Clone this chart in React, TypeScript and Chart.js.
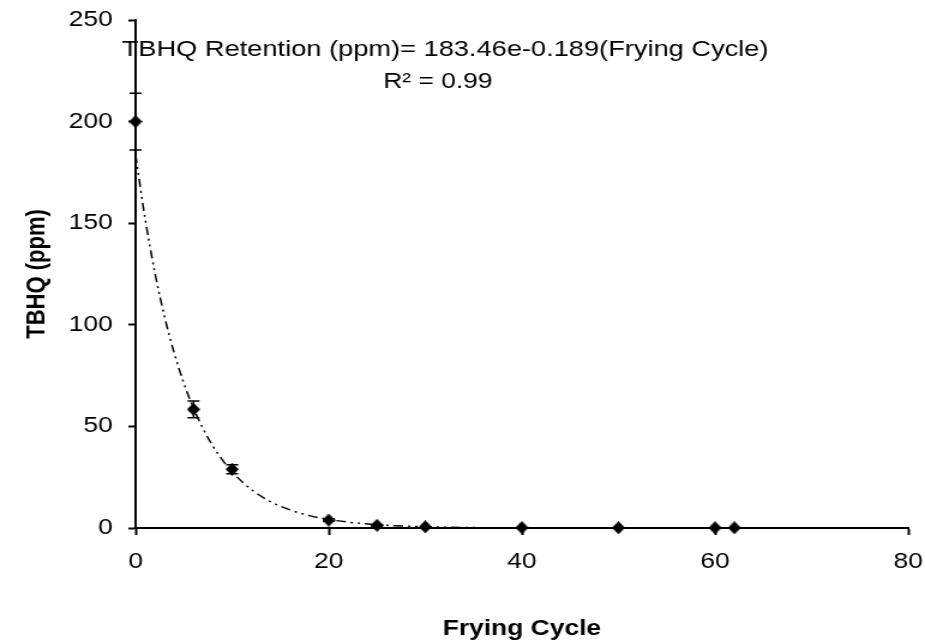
import React, { useEffect, useRef } from "react";
import { Chart, registerables } from "chart.js";
Chart.register(...registerables);

const fryingCycles = [0, 6, 10, 20, 25, 30, 40, 50, 60, 62];
const tbhqValues = [200, 58.4, 28.9, 3.9, 1.3, 0.6, 0.2, 0.1, 0.1, 0.1];
const tbhqErrors = [14, 4.1, 2.2, 0.6, 0.3, 0, 0, 0, 0, 0];
const trendX = [0, 1, 2, 3, 4, 5, 6, 7, 8, 9, 10, 12, 14, 16, 18, 20, 22, 25, 28, 30, 35, 40, 50, 62];
const trendY = [183.5, 151.9, 125.6, 104, 86.1, 71.2, 58.9, 48.8, 40.3, 33.4, 27.6, 18.9, 12.9, 8.9, 6.1, 4.2, 2.9, 1.6, 0.9, 0.6, 0.2, 0.1, 0, 0];
const xTitle = "Frying Cycle";
const yTitle = "TBHQ (ppm)";
const eqLine1 = "TBHQ Retention (ppm)= 183.46e-0.189(Frying Cycle)";
const eqLine2 = "R² = 0.99";

const FONT = '"Liberation Sans", Arial, sans-serif';
// the reference is horizontally stretched; draw on a narrower canvas and stretch it with CSS
const CSS_W = 925;
const CSS_H = 643;
const INNER_W = 771;
const SX = CSS_W / INNER_W;

function makeDiamond(): HTMLCanvasElement {
  const h = 13;
  const w = Math.round(h / SX);
  const c = document.createElement("canvas");
  c.width = w;
  c.height = h;
  const g = c.getContext("2d")!;
  g.fillStyle = "#000";
  g.beginPath();
  g.moveTo(w / 2, 0);
  g.lineTo(w, h / 2);
  g.lineTo(w / 2, h);
  g.lineTo(0, h / 2);
  g.closePath();
  g.fill();
  return c;
}

export default function App() {
  const ref = useRef<HTMLCanvasElement | null>(null);
  useEffect(() => {
    if (!ref.current) return;
    const diamond = makeDiamond();
    const overlay = {
      id: "overlay",
      beforeDatasetsDraw(chart: any) {
        const ctx = chart.ctx;
        const xs = chart.scales.x;
        const ys = chart.scales.y;
        ctx.save();
        ctx.strokeStyle = "#000";
        ctx.lineWidth = 1.5;
        fryingCycles.forEach((x, i) => {
          const e = tbhqErrors[i];
          if (!e) return;
          const px = xs.getPixelForValue(x);
          const p1 = ys.getPixelForValue(tbhqValues[i] + e);
          const p2 = ys.getPixelForValue(tbhqValues[i] - e);
          ctx.beginPath();
          ctx.moveTo(px, p1);
          ctx.lineTo(px, p2);
          ctx.moveTo(px - 5, p1);
          ctx.lineTo(px + 5, p1);
          ctx.moveTo(px - 5, p2);
          ctx.lineTo(px + 5, p2);
          ctx.stroke();
        });
        ctx.restore();
      },
      afterDraw(chart: any) {
        const ctx = chart.ctx;
        const a = chart.chartArea;
        ctx.save();
        ctx.fillStyle = "#000";
        ctx.textAlign = "center";
        ctx.textBaseline = "middle";
        ctx.font = `22.7px ${FONT}`;
        ctx.fillText(eqLine1, a.left + 258, a.top + 30);
        ctx.font = `22px ${FONT}`;
        ctx.fillText(eqLine2, a.left + 252, a.top + 62);
        ctx.font = `bold 22px ${FONT}`;
        ctx.fillText(xTitle, (a.left + a.right) / 2, 629);
        ctx.translate(31, (a.top + a.bottom) / 2);
        ctx.rotate(-Math.PI / 2);
        ctx.fillText(yTitle, 0, 0);
        ctx.restore();
      },
    };
    const chart = new Chart(ref.current, {
      type: "scatter",
      data: {
        datasets: [
          {
            type: "line",
            data: trendX.map((x, i) => ({ x, y: trendY[i] })),
            borderColor: "#000",
            borderWidth: 1.5,
            borderDash: [8, 4, 2, 4, 2, 4],
            pointRadius: 0,
            fill: false,
            clip: false,
            cubicInterpolationMode: "monotone",
          } as any,
          {
            data: fryingCycles.map((x, i) => ({ x, y: tbhqValues[i] })),
            backgroundColor: "#000",
            borderColor: "#000",
            pointStyle: diamond,
            pointRadius: 6,
            borderWidth: 0,
            clip: false,
          } as any,
        ],
      },
      options: {
        animation: false,
        responsive: false,
        maintainAspectRatio: false,
        devicePixelRatio: 1,
        layout: { padding: { top: 20, right: 14, left: 0, bottom: 0 } },
        plugins: { legend: { display: false }, tooltip: { enabled: false } },
        scales: {
          x: {
            type: "linear",
            min: 0,
            max: 80,
            ticks: { stepSize: 20, color: "#000", font: { family: FONT, size: 22 }, padding: 14, maxRotation: 0 },
            grid: { display: true, drawOnChartArea: false, drawTicks: true, tickLength: 7, tickColor: "#000", tickWidth: 2 },
            border: { display: true, color: "#000", width: 2 },
            afterFit: (s: any) => { s.height = 115; s.paddingLeft = 0; s.paddingRight = 0; },
          },
          y: {
            type: "linear",
            min: 0,
            max: 250,
            ticks: { stepSize: 50, color: "#000", font: { family: FONT, size: 22 }, padding: 13 },
            grid: { display: true, drawOnChartArea: false, drawTicks: true, tickLength: 6, tickColor: "#000", tickWidth: 2 },
            border: { display: true, color: "#000", width: 2 },
            afterFit: (s: any) => { s.width = 113; s.paddingTop = 0; s.paddingBottom = 0; },
          },
        },
      },
      plugins: [overlay],
    });
    return () => chart.destroy();
  }, []);
  return (
    <div style={{ position: "fixed", left: 0, top: 0, width: CSS_W, height: CSS_H, background: "#fff" }}>
      <canvas ref={ref} width={INNER_W} height={CSS_H} style={{ width: CSS_W, height: CSS_H, display: "block" }} />
    </div>
  );
}
